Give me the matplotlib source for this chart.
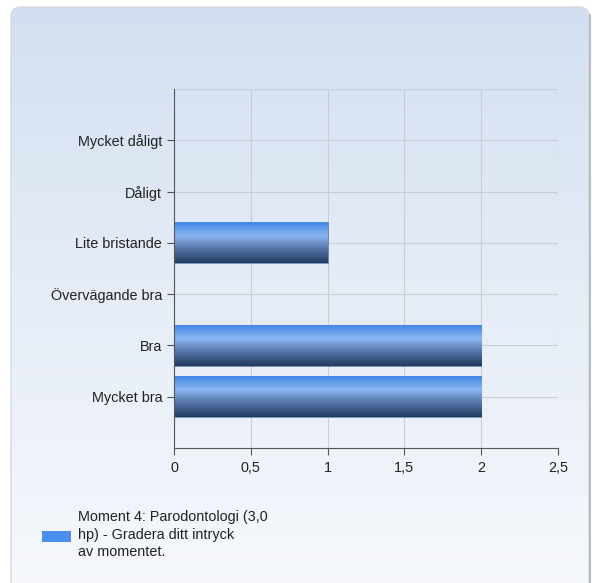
import matplotlib.pyplot as plt
import numpy as np
from matplotlib.patches import FancyBboxPatch
from matplotlib.colors import LinearSegmentedColormap

plt.rcParams["font.family"] = ["Liberation Sans", "DejaVu Sans"]

kategorier = ["Mycket dåligt", "Dåligt", "Lite bristande", "Övervägande bra", "Bra", "Mycket bra"]
antal = [0, 0, 1, 0, 2, 2]
xticks = [0, 0.5, 1, 1.5, 2, 2.5]
xtick_labels = ["0", "0,5", "1", "1,5", "2", "2,5"]
legend_text = "Moment 4: Parodontologi (3,0\nhp) - Gradera ditt intryck\nav momentet."

W, H = 594, 583
fig = plt.figure(figsize=(W / 100, H / 100), dpi=100)
fig.patch.set_facecolor("white")

# bakgrund med gradient
bg = fig.add_axes([0, 0, 1, 1], zorder=-2)
bg.set_xlim(0, W)
bg.set_ylim(H, 0)
bg.axis("off")
grad = np.linspace(0, 1, 256).reshape(-1, 1)
bg_cmap = LinearSegmentedColormap.from_list("bg", ["#d3dff0", "#e6edf7", "#f6f8fc"])
panel = FancyBboxPatch((11, 7), 578, 600, boxstyle="round,pad=0,rounding_size=10",
                       facecolor="none", edgecolor="#d4d9e0", linewidth=1.0)
bg.add_patch(panel)
im = bg.imshow(grad, extent=[11, 589, 590, 7], cmap=bg_cmap, aspect="auto")
im.set_clip_path(panel)
bg.plot([589.5, 589.5], [15, 583], color="#b8bdc5", linewidth=1.5)

# diagram
x0, x1 = 174, 558
y0, y1 = 89, 448
ax = fig.add_axes([x0 / W, 1 - y1 / H, (x1 - x0) / W, (y1 - y0) / H])
ax.set_facecolor("none")
ypos = np.arange(len(kategorier))
ax.set_yticks(ypos)
ax.set_yticklabels(kategorier, fontsize=10.4, color="#222222")
ax.set_xticks(xticks)
ax.set_xticklabels(xtick_labels, fontsize=10.4, color="#222222")
ax.grid(True, color="#c8cdd6", linewidth=0.8)
ax.set_axisbelow(True)
for s in ["top", "right"]:
    ax.spines[s].set_visible(False)
for s in ["left", "bottom"]:
    ax.spines[s].set_color("#555555")
ax.tick_params(color="#555555", length=5)
ax.tick_params(axis="x", pad=4)
ax.axhline(-1, color="#c8cdd6", linewidth=0.8)

bar_cmap = LinearSegmentedColormap.from_list(
    "bar", [(0, "#3d82e6"), (0.35, "#8db6f2"), (0.6, "#5f80b4"), (1, "#22395f")])
bars = ax.barh(ypos, antal, height=0.8, color="none", edgecolor="#4a6fa5", linewidth=0.5)
for b, v in zip(bars, antal):
    if v == 0:
        continue
    yb = b.get_y()
    h = b.get_height()
    gi = ax.imshow(grad, extent=[0, v, yb + h, yb], cmap=bar_cmap, aspect="auto", zorder=2)
    gi.set_clip_path(b)
ax.set_xlim(0, 2.5)
ax.set_ylim(6, -1)

# legend
bg.add_patch(plt.Rectangle((42, 531), 29, 11, facecolor="#4a8ff0", edgecolor="none"))
bg.text(78, 510, legend_text, fontsize=10.4, color="#222222", va="top", ha="left", linespacing=1.32)

fig.savefig("out.png", dpi=100)
